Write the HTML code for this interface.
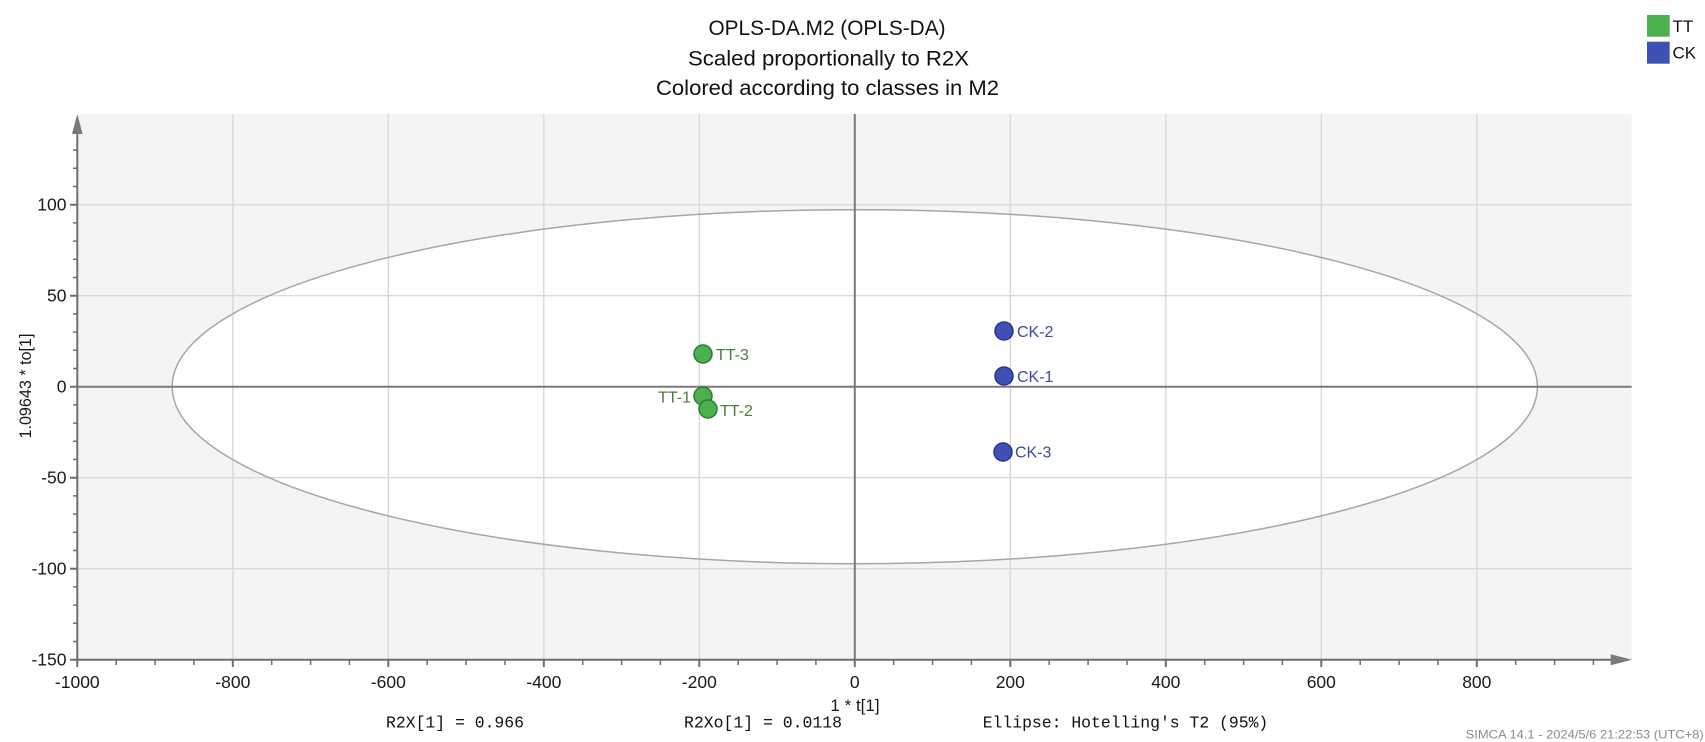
<!DOCTYPE html>
<html>
<head>
<meta charset="utf-8">
<style>
  html,body{margin:0;padding:0;background:#fff;}
  svg{display:block;}
  text{font-family:"Liberation Sans",sans-serif;}
  .mono{font-family:"Liberation Mono",monospace;}
</style>
</head>
<body>
<svg width="1705" height="742" viewBox="0 0 1705 742" xmlns="http://www.w3.org/2000/svg">
  <!-- plot background -->
  <rect x="77.3" y="114" width="1554.4" height="546" fill="#f4f4f4"/>
  <!-- ellipse fill -->
  <ellipse cx="854.8" cy="386.7" rx="682.6" ry="177" fill="#ffffff"/>
  <!-- grid lines -->
  <g stroke="#d9d9d9" stroke-width="1.4" fill="none">
    <path d="M232.8 114V660M388.3 114V660M543.8 114V660M699.3 114V660M1010.3 114V660M1165.8 114V660M1321.3 114V660M1476.8 114V660"/>
    <path d="M77.3 568.7H1631.7M77.3 477.7H1631.7M77.3 295.7H1631.7M77.3 204.7H1631.7"/>
  </g>
  <!-- ellipse stroke -->
  <ellipse cx="854.8" cy="386.7" rx="682.6" ry="177" fill="none" stroke="#a6a6a6" stroke-width="1.5"/>
  <!-- zero lines -->
  <g stroke="#7a7a7a" stroke-width="2">
    <path d="M77.3 386.7H1631.7"/>
    <path d="M854.8 114V660"/>
  </g>
  <!-- axes -->
  <g stroke="#6e6e6e" stroke-width="2" fill="none">
    <path d="M77.3 128V661"/>
    <path d="M76 659.7H1614"/>
  </g>
  <polygon points="77.3,114 72,134 82.6,134" fill="#7a7a7a"/>
  <polygon points="1632,659.7 1610.7,654.2 1610.7,665.2" fill="#7a7a7a"/>
  <!-- y ticks -->
  <g stroke="#6e6e6e" stroke-width="1.5">
    <path d="M73 641.5H77M73 623.3H77M73 605.1H77M73 586.9H77M73 550.5H77M73 532.3H77M73 514.1H77M73 495.9H77M73 459.5H77M73 441.3H77M73 423.1H77M73 404.9H77M73 368.5H77M73 350.3H77M73 332.1H77M73 313.9H77M73 277.5H77M73 259.3H77M73 241.1H77M73 222.9H77M73 186.5H77M73 168.3H77M73 150.1H77M73 131.9H77"/>
    <path d="M70 659.7H77M70 568.7H77M70 477.7H77M70 386.7H77M70 295.7H77M70 204.7H77" stroke-width="2"/>
  </g>
  <!-- x ticks -->
  <g stroke="#6e6e6e" stroke-width="1.5">
    <path d="M116.2 660V665M155.1 660V665M193.9 660V665M271.7 660V665M310.6 660V665M349.4 660V665M427.2 660V665M466.1 660V665M505 660V665M582.7 660V665M621.6 660V665M660.4 660V665M738.2 660V665M777.1 660V665M815.9 660V665M893.7 660V665M932.6 660V665M971.4 660V665M1049.2 660V665M1088.1 660V665M1127 660V665M1204.7 660V665M1243.6 660V665M1282.4 660V665M1360.2 660V665M1399.1 660V665M1437.9 660V665M1515.7 660V665M1554.6 660V665M1593.4 660V665"/>
    <path d="M77.3 660V667M232.8 660V667M388.3 660V667M543.8 660V667M699.3 660V667M854.8 660V667M1010.3 660V667M1165.8 660V667M1321.3 660V667M1476.8 660V667" stroke-width="2"/>
  </g>
  <!-- y tick labels -->
  <g font-size="17.5" fill="#1a1a1a" text-anchor="end">
    <text x="66.5" y="210.7">100</text>
    <text x="66.5" y="301.7">50</text>
    <text x="66.5" y="392.7">0</text>
    <text x="66.5" y="483.7">-50</text>
    <text x="66.5" y="574.7">-100</text>
    <text x="66.5" y="665.7">-150</text>
  </g>
  <!-- x tick labels -->
  <g font-size="17.5" fill="#1a1a1a" text-anchor="middle">
    <text x="77.3" y="688">-1000</text>
    <text x="232.8" y="688">-800</text>
    <text x="388.3" y="688">-600</text>
    <text x="543.8" y="688">-400</text>
    <text x="699.3" y="688">-200</text>
    <text x="854.8" y="688">0</text>
    <text x="1010.3" y="688">200</text>
    <text x="1165.8" y="688">400</text>
    <text x="1321.3" y="688">600</text>
    <text x="1476.8" y="688">800</text>
  </g>
  <!-- axis titles -->
  <text x="855" y="711" font-size="17" fill="#1a1a1a" text-anchor="middle">1 * t[1]</text>
  <text transform="translate(31,386) rotate(-90)" font-size="17" fill="#1a1a1a" text-anchor="middle" textLength="105" lengthAdjust="spacingAndGlyphs">1.09643 * to[1]</text>
  <!-- title -->
  <g font-size="21" fill="#111" text-anchor="middle">
    <text x="827" y="35" textLength="237" lengthAdjust="spacingAndGlyphs">OPLS-DA.M2 (OPLS-DA)</text>
    <text x="828.5" y="65.5" textLength="281" lengthAdjust="spacingAndGlyphs">Scaled proportionally to R2X</text>
    <text x="827.5" y="95" textLength="343" lengthAdjust="spacingAndGlyphs">Colored according to classes in M2</text>
  </g>
  <!-- points -->
  <g stroke-width="1.5">
    <circle cx="703" cy="354" r="9" fill="#4caf50" stroke="#2f7a34"/>
    <circle cx="703" cy="396" r="9" fill="#4caf50" stroke="#2f7a34"/>
    <circle cx="708" cy="409" r="9" fill="#4caf50" stroke="#2f7a34"/>
    <circle cx="1004" cy="331" r="9" fill="#3f51b5" stroke="#27358a"/>
    <circle cx="1004" cy="376" r="9" fill="#3f51b5" stroke="#27358a"/>
    <circle cx="1003" cy="452" r="9" fill="#3f51b5" stroke="#27358a"/>
  </g>
  <!-- point labels -->
  <g font-size="16" fill="#4a7a3e">
    <text x="716" y="360">TT-3</text>
    <text x="691" y="402.5" text-anchor="end">TT-1</text>
    <text x="720" y="416">TT-2</text>
  </g>
  <g font-size="16" fill="#3b4a9c">
    <text x="1017" y="337">CK-2</text>
    <text x="1017" y="382">CK-1</text>
    <text x="1015" y="457.5">CK-3</text>
  </g>
  <!-- legend -->
  <rect x="1647" y="15" width="22.7" height="21.7" fill="#4caf50"/>
  <rect x="1647" y="41.7" width="22.7" height="22" fill="#3f51b5"/>
  <g font-size="17" fill="#111">
    <text x="1672.5" y="32">TT</text>
    <text x="1672.5" y="58.5">CK</text>
  </g>
  <!-- bottom texts -->
  <g class="mono" font-size="16.5" fill="#111">
    <text class="mono" x="386" y="727.3" textLength="138" lengthAdjust="spacingAndGlyphs">R2X[1] = 0.966</text>
    <text class="mono" x="684" y="727.3" textLength="158" lengthAdjust="spacingAndGlyphs">R2Xo[1] = 0.0118</text>
    <text class="mono" x="982.7" y="727.3" textLength="285.6" lengthAdjust="spacingAndGlyphs">Ellipse: Hotelling's T2 (95%)</text>
  </g>
  <text x="1465.7" y="738.3" font-size="12" fill="#8a8a8a" textLength="238" lengthAdjust="spacingAndGlyphs">SIMCA 14.1 - 2024/5/6 21:22:53 (UTC+8)</text>
</svg>
</body>
</html>
